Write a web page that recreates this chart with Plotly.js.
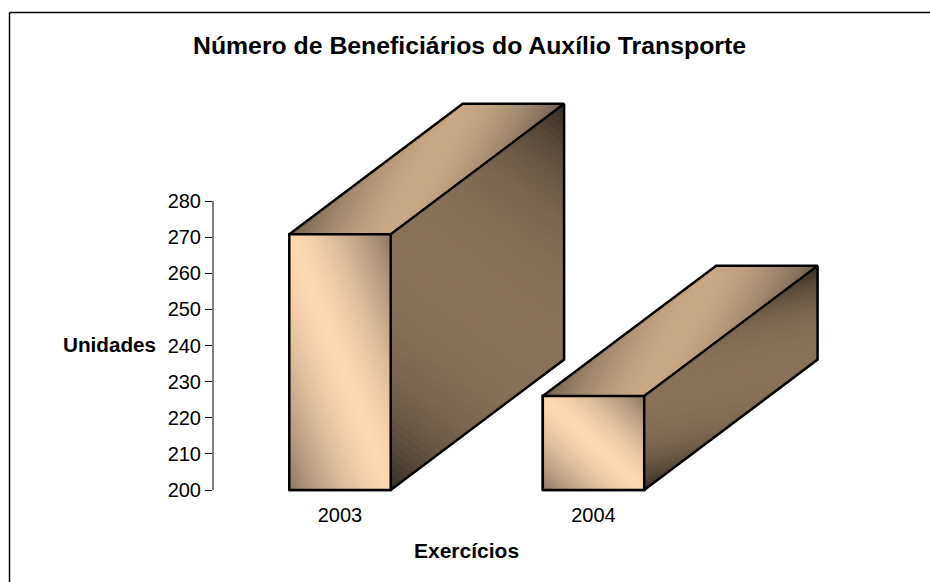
<!DOCTYPE html>
<html>
<head>
<meta charset="utf-8">
<script src="https://cdn.plot.ly/plotly-3.0.1.min.js"></script>
<style>html,body{margin:0;padding:0;background:#fff}#chart{width:930px;height:582px}</style>
</head>
<body>
<div id="chart"></div>
<script>
// Data
const categories = ['2003', '2004'];
const beneficiarios = [270.8, 226];
const yTickVals = [200, 210, 220, 230, 240, 250, 260, 270, 280];
const chartTitle = 'Número de Beneficiários do Auxílio Transporte';
const xTitle = 'Exercícios';
const yTitle = 'Unidades';

// 3D look
const baseValue = 200;
const barWidth = 0.4;
const depthX = 0.684;
const depthY = 36.1;
const steps = 64;
const faces = {
  front: {light: [255, 216, 176], dark: [140, 120, 100], power: 1.5},
  top:   {light: [200, 168, 132], dark: [112, 96, 80], power: 1.7},
  side:  {light: [136, 114, 90],  dark: [52, 43, 34],  power: 2.7}
};

// Page geometry
const W = 930, H = 582;
const m = {l: 213, r: 95, t: 90, b: 87};
const plotW = W - m.l - m.r, plotH = H - m.t - m.b;
const pxPerUnit = 289 / 80;
const yMin = 200 - (92 - m.b) / pxPerUnit;
const yMax = yMin + plotH / pxPerUnit;
const pxPerCat = 253.5;
const xMin = -(340 - m.l) / pxPerCat;
const xMax = xMin + plotW / pxPerCat;
const px = v => (v - m.l) / plotW;
const py = v => 1 - (v - m.t) / plotH;

function clip(poly, a, b) {
  // keep the part of a (u,v) polygon where a <= u+v <= b
  const cut = (pts, inside, level) => {
    const out = [];
    pts.forEach((p, i) => {
      const q = pts[(i + 1) % pts.length];
      const pi = inside(p[0] + p[1]), qi = inside(q[0] + q[1]);
      if (pi) out.push(p);
      if (pi !== qi) {
        const s = (level - p[0] - p[1]) / (q[0] + q[1] - p[0] - p[1]);
        out.push([p[0] + s * (q[0] - p[0]), p[1] + s * (q[1] - p[1])]);
      }
    });
    return out;
  };
  return cut(cut(poly, t => t >= a, a), t => t <= b, b);
}

function shade(f, t) {
  const d = Math.pow(Math.abs(t - 1), f.power);
  const c = f.light.map((l, i) => Math.round(l + (f.dark[i] - l) * d));
  return 'rgb(' + c.join(',') + ')';
}

function faceTraces(origin, ux, uy, vx, vy, f) {
  const out = [];
  const square = [[0, 0], [1, 0], [1, 1], [0, 1]];
  for (let i = 0; i < steps; i++) {
    const a = 2 * i / steps, b = 2 * (i + 1) / steps;
    const poly = clip(square, a, b);
    if (!poly.length) continue;
    const closed = poly.concat([poly[0]]);
    const col = shade(f, (a + b) / 2);
    out.push({
      type: 'scatter', mode: 'lines', fill: 'toself', fillcolor: col,
      line: {color: col, width: 1}, hoverinfo: 'skip', showlegend: false,
      x: closed.map(p => origin[0] + p[0] * ux + p[1] * vx),
      y: closed.map(p => origin[1] + p[0] * uy + p[1] * vy)
    });
  }
  return out;
}

const traces = [{
  type: 'bar', x: [0, 1], y: beneficiarios.map(v => v - baseValue), base: baseValue,
  width: barWidth, text: categories, textposition: 'none', hoverinfo: 'text', showlegend: false,
  marker: {color: '#ffd8b0', line: {color: '#000', width: 2.5}}
}];

beneficiarios.forEach((v, i) => {
  const L = i - barWidth / 2, R = i + barWidth / 2, h = v - baseValue;
  traces.push(...faceTraces([R, baseValue], depthX, depthY, 0, h, faces.side));
  traces.push(...faceTraces([L, v], barWidth, 0, depthX, depthY, faces.top));
  traces.push(...faceTraces([L, baseValue], barWidth, 0, 0, h, faces.front));
  const xs = [L, R, R, L, L, null, L, L + depthX, R + depthX, R, null,
              R + depthX, R + depthX, R];
  const ys = [baseValue, baseValue, v, v, baseValue, null, v, v + depthY, v + depthY, v, null,
              v + depthY, baseValue + depthY, baseValue];
  traces.push({
    type: 'scatter', mode: 'lines', x: xs, y: ys, hoverinfo: 'skip', showlegend: false,
    line: {color: '#000', width: 2.5, simplify: false}
  });
});

const font = 'Liberation Sans, Arial, sans-serif';
const layout = {
  width: W, height: H,
  margin: m,
  paper_bgcolor: '#fff', plot_bgcolor: 'rgba(0,0,0,0)',
  showlegend: false,
  title: {
    text: '<b>' + chartTitle + '</b>', xref: 'paper', yref: 'paper',
    x: px(469.5), xanchor: 'center', y: py(49), yanchor: 'middle',
    font: {family: font, size: 24.8, color: '#000'}
  },
  xaxis: {
    range: [xMin, xMax], tickmode: 'array', tickvals: [0, 1], ticktext: categories,
    showgrid: false, zeroline: false, showline: false, ticks: '', ticklabelstandoff: 6,
    tickfont: {family: font, size: 20, color: '#000'}
  },
  yaxis: {
    range: [yMin, yMax], tickmode: 'array', tickvals: yTickVals,
    showgrid: false, zeroline: false, showline: false,
    ticks: 'outside', ticklen: 7, tickwidth: 1, tickcolor: '#000',
    tickfont: {family: font, size: 20, color: '#000'}
  },
  shapes: [
    {type: 'line', xref: 'paper', yref: 'y', x0: 0, x1: 0, y0: 200, y1: 280, line: {color: '#000', width: 1}},
    {type: 'line', xref: 'paper', yref: 'paper', x0: px(9.5), x1: px(9.5), y0: py(12.5), y1: py(582), line: {color: '#000', width: 1.5}},
    {type: 'line', xref: 'paper', yref: 'paper', x0: px(9.5), x1: px(930), y0: py(12.5), y1: py(12.5), line: {color: '#000', width: 1.5}}
  ],
  annotations: [
    {text: '<b>' + yTitle + '</b>', xref: 'paper', yref: 'paper', x: px(109.5), y: py(344.5), showarrow: false,
     xanchor: 'center', yanchor: 'middle', font: {family: font, size: 20.7, color: '#000'}},
    {text: '<b>' + xTitle + '</b>', xref: 'paper', yref: 'paper', x: px(466.5), y: py(550), showarrow: false,
     xanchor: 'center', yanchor: 'middle', font: {family: font, size: 21, color: '#000'}}
  ]
};
Plotly.newPlot('chart', traces, layout, {displayModeBar: false, staticPlot: true});
</script>
</body>
</html>
